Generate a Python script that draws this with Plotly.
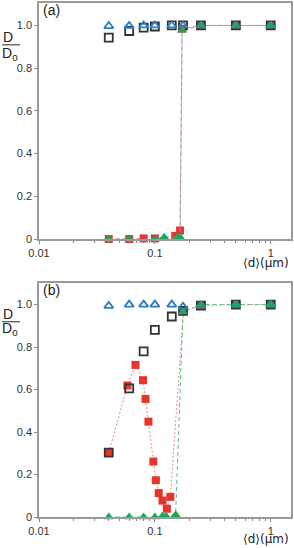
import plotly.graph_objects as go
from plotly.subplots import make_subplots

# ---------------- data ----------------
# panel (a)
a_black_x = [0.04, 0.06, 0.08, 0.1, 0.14, 0.175, 0.25, 0.5, 1.0]
a_black_y = [0.943, 0.974, 0.99, 0.995, 1.0, 1.0, 1.0, 1.0, 1.0]
a_blue_x = [0.04, 0.06, 0.08, 0.1, 0.14, 0.175, 0.25, 0.5, 1.0]
a_blue_y = [0.997, 0.998, 1.0, 1.0, 1.0, 1.0, 1.0, 1.0, 1.0]
a_red_x = [0.04, 0.06, 0.08, 0.1, 0.15, 0.165, 0.172, 0.25, 0.5, 1.0]
a_red_y = [0.0, 0.0, 0.003, 0.003, 0.015, 0.04, 0.985, 1.0, 1.0, 1.0]
a_green_x = [0.04, 0.06, 0.1, 0.12, 0.157, 0.165, 0.172, 0.25, 0.5, 1.0]
a_green_y = [0.0, 0.0, 0.0, 0.008, 0.008, 0.008, 0.978, 1.0, 1.0, 1.0]

# panel (b)
b_black_x = [0.04, 0.06, 0.08, 0.1, 0.14, 0.175, 0.25, 0.5, 1.0]
b_black_y = [0.303, 0.606, 0.78, 0.881, 0.944, 0.97, 0.995, 1.0, 1.0]
b_blue_x = [0.04, 0.06, 0.08, 0.1, 0.14, 0.175, 0.25, 0.5, 1.0]
b_blue_y = [0.994, 1.0, 1.0, 1.0, 1.0, 0.99, 0.995, 1.0, 1.0]
b_red_x = [0.04, 0.058, 0.068, 0.079, 0.083, 0.088, 0.097, 0.102, 0.108,
           0.1165, 0.127, 0.136, 0.177, 0.25, 0.5, 1.0]
b_red_y = [0.303, 0.619, 0.716, 0.644, 0.556, 0.449, 0.261, 0.173, 0.1125,
           0.077, 0.039, 0.095, 0.972, 0.995, 1.0, 1.0]
b_green_x = [0.04, 0.06, 0.08, 0.1, 0.1165, 0.125, 0.151, 0.175, 0.25, 0.5, 1.0]
b_green_y = [0.0, 0.0, 0.0, 0.0, 0.005, 0.003, 0.01, 0.965, 1.0, 1.0, 1.0]

x_tickvals = [0.01, 0.1, 1]
x_ticktext = ["0.01", "0.1", "1"]
x_minorvals = [0.02, 0.03, 0.04, 0.05, 0.06, 0.07, 0.08, 0.09,
               0.2, 0.3, 0.4, 0.5, 0.6, 0.7, 0.8, 0.9]
y_tickvals = [0, 0.2, 0.4, 0.6, 0.8, 1.0]
y_ticktext = ["0", "0.2", "0.4", "0.6", "0.8", "1.0"]

RED = "#e8342c"
GREEN = "#1fa55b"
BLUE = "#2b7dc2"
BLACK = "#333333"

fig = make_subplots(rows=2, cols=1)

def add_panel(row, red, black, blue, green, red_line, green_line):
    fig.add_trace(go.Scatter(
        x=red[0], y=red[1], mode="lines+markers", cliponaxis=False,
        line=dict(color=red_line[0], width=1, dash=red_line[1]),
        marker=dict(symbol="square", size=8, color=RED),
        showlegend=False), row=row, col=1)
    fig.add_trace(go.Scatter(
        x=green[0], y=green[1], mode="lines", cliponaxis=False,
        line=dict(color=green_line[0], width=1, dash=green_line[1]),
        showlegend=False), row=row, col=1)
    fig.add_trace(go.Scatter(
        x=black[0], y=black[1], mode="markers", cliponaxis=False,
        marker=dict(symbol="square-open", size=8, color=BLACK,
                    line=dict(width=1.8, color=BLACK)),
        showlegend=False), row=row, col=1)
    fig.add_trace(go.Scatter(
        x=blue[0], y=blue[1], mode="markers", cliponaxis=False,
        marker=dict(symbol="triangle-up-open", size=8, color=BLUE,
                    line=dict(width=1.8, color=BLUE)),
        showlegend=False), row=row, col=1)
    fig.add_trace(go.Scatter(
        x=green[0], y=green[1], mode="markers", cliponaxis=False,
        marker=dict(symbol="triangle-up", size=9, color=GREEN),
        showlegend=False), row=row, col=1)

add_panel(1, (a_red_x, a_red_y), (a_black_x, a_black_y), (a_blue_x, a_blue_y),
          (a_green_x, a_green_y), ("#f08a84", "4px,3px"), ("#7f9fc8", "4px,3px"))
add_panel(2, (b_red_x, b_red_y), (b_black_x, b_black_y), (b_blue_x, b_blue_y),
          (b_green_x, b_green_y), ("#f08a84", "2px,2px"), ("#5cbf88", "4px,3px"))

tickfont = dict(family="Liberation Sans, Arial, sans-serif", size=11, color="#333")
axcommon = dict(showline=True, mirror=True, linecolor="#9a9a9a", linewidth=1.5,
                showgrid=False, zeroline=False, ticks="outside", ticklen=3,
                tickcolor="#888", tickfont=tickfont)

for r, dom, yr in [(1, [0.5407, 1.0], [0, 1.105]), (2, [0.0, 0.4554], [0, 1.102])]:
    fig.update_xaxes(type="log", range=[-2, 0.175], tickmode="array",
                     tickvals=x_tickvals, ticktext=x_ticktext,
                     minor=dict(tickmode="array", tickvals=x_minorvals,
                                ticks="outside", ticklen=2, tickcolor="#888"),
                     row=r, col=1, **axcommon)
    fig.update_yaxes(range=yr, domain=dom, tickmode="array",
                     tickvals=y_tickvals, ticktext=y_ticktext,
                     row=r, col=1, **axcommon)

fig.update_layout(
    width=294, height=548,
    margin=dict(l=39, r=2, t=1, b=31),
    paper_bgcolor="white", plot_bgcolor="white",
    font=dict(family="Liberation Sans, Arial, sans-serif", color="#222"),
)

# labels
def px_y(y):  # pixel from top -> paper fraction
    return (517 - y) / 516.0

def px_x(x):
    return (x - 39) / 253.0

lab_font = dict(family="Liberation Sans, Arial, sans-serif", size=14, color="#222")
for ytop, ymid, ybot, tag, ytag, yxl in [(35, 43, 52, "(a)", 8, 262), (313, 321, 328, "(b)", 289, 539)]:
    fig.add_annotation(x=px_x(8), y=px_y(ytop), xref="paper", yref="paper",
                       text="D", showarrow=False, font=lab_font,
                       xanchor="center", yanchor="middle")
    fig.add_annotation(x=px_x(10), y=px_y(ybot), xref="paper", yref="paper",
                       text="D<sub>0</sub>", showarrow=False, font=lab_font,
                       xanchor="center", yanchor="middle")
    fig.add_shape(type="line", xref="paper", yref="paper",
                  x0=px_x(2), x1=px_x(20), y0=px_y(ymid), y1=px_y(ymid),
                  line=dict(color="#222", width=1))
    fig.add_annotation(x=px_x(41), y=px_y(ytag), xref="paper", yref="paper",
                       text=tag, showarrow=False, font=dict(family="Liberation Sans, Arial, sans-serif", size=14, color="#222"),
                       xanchor="left", yanchor="middle")
    fig.add_annotation(x=px_x(292), y=px_y(yxl), xref="paper", yref="paper",
                       text="⟨d⟩(μm)", showarrow=False,
                       font=dict(family="DejaVu Sans, Liberation Sans, sans-serif", size=12, color="#222"),
                       xanchor="right", yanchor="middle")

fig.write_html("out.html", config={"displayModeBar": False},
               post_script="document.body.style.margin='0';")
